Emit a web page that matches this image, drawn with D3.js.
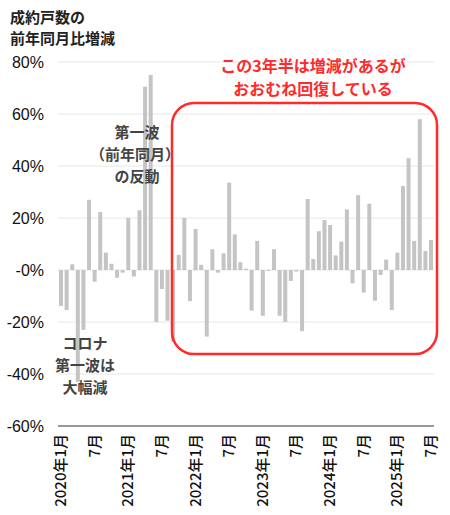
<!DOCTYPE html>
<html><head><meta charset="utf-8">
<script src="https://cdn.jsdelivr.net/npm/d3@7"></script>
<style>body{margin:0;background:#fff;font-family:"Noto Sans CJK JP",sans-serif;}</style>
</head><body><div id="chart"></div>
<script>
// 2020年1月 .. 2025年7月, 前年同月比 (%)
var values = [-13.8,-15.4,2.2,-43,-23,27,-4.5,22.3,6.7,2.4,-3,-1,
  20,-2.5,23,70.5,75,-20,-7.3,-19.5,-27.5,5.8,20,-12,
  15.8,2,-25.6,8,-1,6.4,33.6,13.7,3,0.5,-15.6,11.2,
  -17.6,-0.4,8,-17.6,-20,-4.2,-0.6,-23.5,27.3,4.2,14.9,19.2,
  17.3,5.6,10.9,23.3,-5.1,28.8,-8.7,25.5,-11.8,-1.9,4,-15.4,
  6.7,32.3,43,11.2,58,7.3,11.5];
var yTicks = [80,60,40,20,0,-20,-40,-60];
var xLabels = [[0,"2020年1月"],[6,"7月"],[12,"2021年1月"],[18,"7月"],[24,"2022年1月"],[30,"7月"],
  [36,"2023年1月"],[42,"7月"],[48,"2024年1月"],[54,"7月"],[60,"2025年1月"],[66,"7月"]];

var width = 450, height = 515;
var svg = d3.select("#chart").append("svg").attr("width", width).attr("height", height);

var yScale = d3.scaleLinear().domain([-60, 80]).range([426, 62]);
var xScale = d3.scaleLinear().domain([0, values.length - 1]).range([61, 431]);

// grid
svg.selectAll(".grid").data(yTicks.filter(function(d){return d > -60;})).enter().append("line")
  .attr("x1", 58).attr("x2", 434)
  .attr("y1", function(d){return yScale(d);}).attr("y2", function(d){return yScale(d);})
  .attr("stroke", "#e6e6e6").attr("stroke-width", 1);
svg.append("line").attr("x1", 58).attr("x2", 434).attr("y1", yScale(-60)).attr("y2", yScale(-60))
  .attr("stroke", "#333").attr("stroke-width", 1);

svg.selectAll("text.ytick").data(yTicks).enter().append("text")
  .attr("class", "ytick")
  .attr("x", 44).attr("y", function(d){return yScale(d) + 6;})
  .attr("text-anchor", "end").attr("font-size", 16).attr("font-family", "Liberation Sans, sans-serif")
  .attr("fill", "#111")
  .text(function(d){return (d === 0 ? "-0" : d) + "%";});

// bars
svg.selectAll(".bar").data(values).enter().append("rect")
  .attr("x", function(d, i){return xScale(i) - 2;})
  .attr("width", 4)
  .attr("y", function(d){return yScale(Math.max(0, d));})
  .attr("height", function(d){return Math.abs(yScale(d) - yScale(0));})
  .attr("fill", "#c4c4c4");

// x labels
svg.selectAll("text.xl").data(xLabels).enter().append("text")
  .attr("transform", function(d){return "translate(" + (xScale(d[0]) + 5) + ",434) rotate(-90)";})
  .attr("text-anchor", "end").attr("font-size", 15).attr("font-weight", 500).attr("fill", "#111")
  .text(function(d){return d[1];});

// title
svg.append("text").attr("x", 10).attr("y", 23).attr("font-size", 15).attr("font-weight", "bold").attr("fill", "#222").text("成約戸数の");
svg.append("text").attr("x", 10).attr("y", 44).attr("font-size", 15).attr("font-weight", "bold").attr("fill", "#222").text("前年同月比増減");

// highlight box
svg.append("rect").attr("x", 172).attr("y", 103).attr("width", 265).attr("height", 251)
  .attr("rx", 22).attr("fill", "none").attr("stroke", "#ff2a2a").attr("stroke-width", 2.5);
[["この3年半は増減があるが", 72], ["おおむね回復している", 95]].forEach(function(t){
  svg.append("text").attr("x", 313).attr("y", t[1]).attr("text-anchor", "middle")
    .attr("font-size", 16).attr("font-weight", "bold").attr("fill", "#ff2a2a").text(t[0]);
});

// annotations
[["第一波", 137, 138], ["（前年同月）", 135, 160], ["の反動", 137, 182],
 ["コロナ", 85, 349], ["第一波は", 85, 371], ["大幅減", 85, 393]].forEach(function(t){
  svg.append("text").attr("x", t[1]).attr("y", t[2]).attr("text-anchor", "middle")
    .attr("font-size", 15).attr("font-weight", "bold").attr("fill", "#444").text(t[0]);
});
</script></body></html>
